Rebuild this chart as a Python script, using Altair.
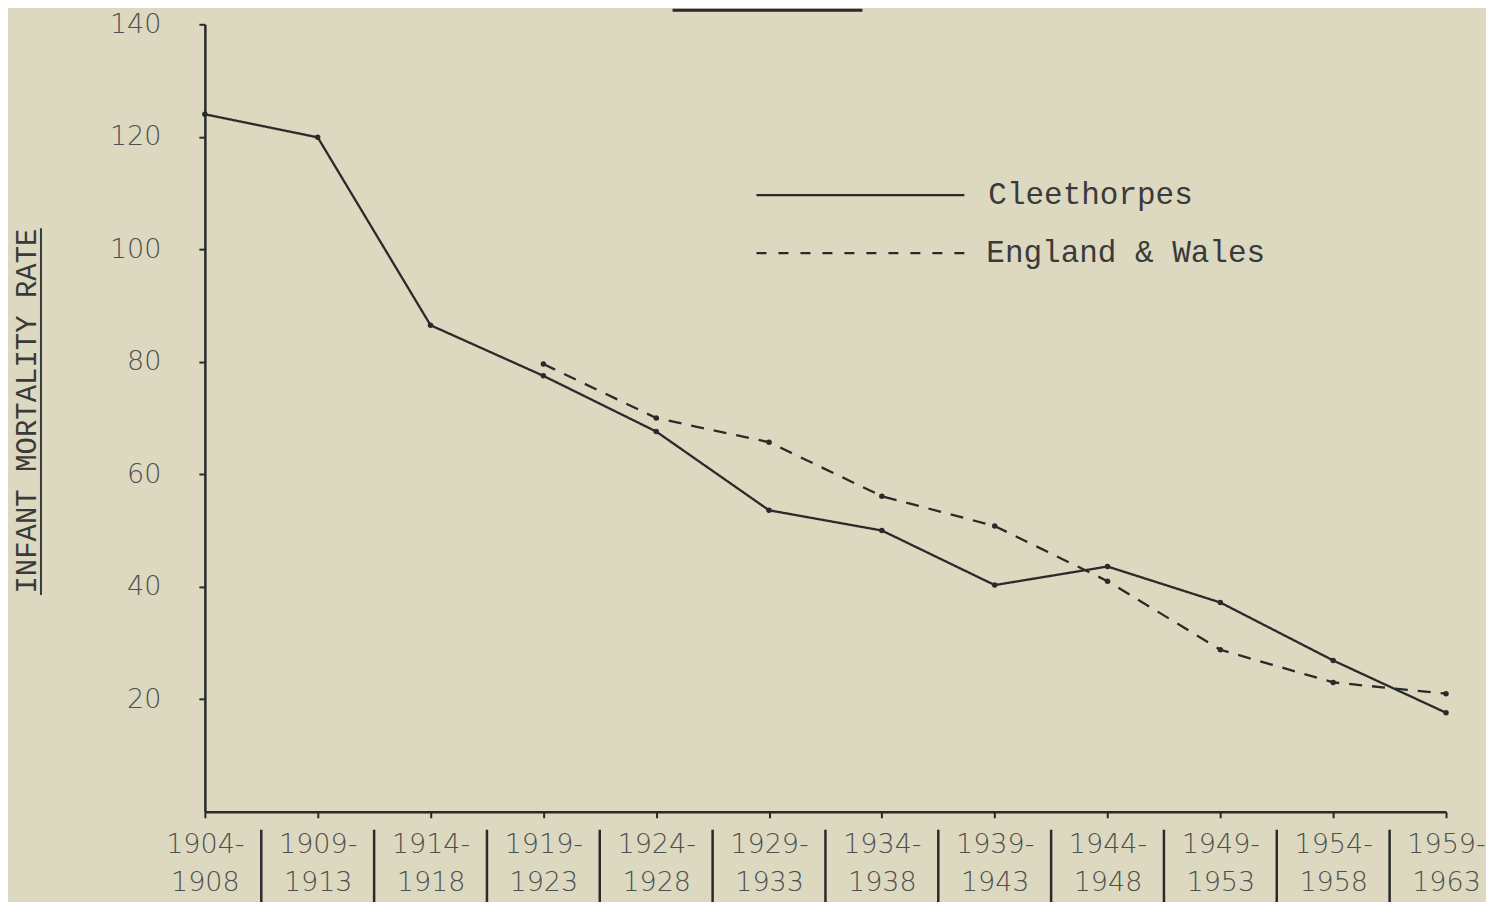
import altair as alt
import pandas as pd

periods = ["1904-|1908", "1909-|1913", "1914-|1918", "1919-|1923", "1924-|1928",
           "1929-|1933", "1934-|1938", "1939-|1943", "1944-|1948", "1949-|1953",
           "1954-|1958", "1959-|1963"]
cleethorpes = [124.0, 119.9, 86.5, 77.5, 67.6, 53.6, 50.0, 40.3, 43.6, 37.2, 26.9, 17.6]
england_wales = [None, None, None, 79.6, 70.0, 65.7, 56.1, 50.8, 41.0, 28.8, 23.0, 21.0]
series_names = ["Cleethorpes", "England & Wales"]
y_ticks = [20, 40, 60, 80, 100, 120, 140]
y_title = "INFANT MORTALITY RATE"

INK = "#2a2a2a"
LABEL = "#4f4f4f"
BG = "#dcd9c0"
NUM_FONT = "DejaVu Sans"
W, H = 1242, 788

rows = []
for i, (c, e) in enumerate(zip(cleethorpes, england_wales)):
    rows.append({"idx": i, "series": series_names[0], "rate": c})
    if e is not None:
        rows.append({"idx": i, "series": series_names[1], "rate": e})
df = pd.DataFrame(rows)
sep_df = pd.DataFrame({"pos": [i + 0.5 for i in range(len(periods) - 1)]})

labels_js = "[" + ",".join("'" + p + "'" for p in periods) + "]"

x_enc = alt.X(
    "idx:Q",
    scale=alt.Scale(domain=[0, len(periods) - 1], nice=False, zero=False),
    axis=alt.Axis(
        values=list(range(len(periods))),
        labelExpr=f"split({labels_js}[datum.value], '|')",
        title=None, grid=False, domainColor=INK, domainWidth=2.5,
        tickColor=INK, tickSize=6, tickWidth=2,
        labelFont=NUM_FONT, labelFontSize=27, labelFontWeight=200, labelColor=LABEL,
        labelPadding=14, labelLineHeight=38, labelFlush=False, labelOverlap=False,
    ),
)
y_enc = alt.Y(
    "rate:Q",
    scale=alt.Scale(domain=[0, 140], nice=False),
    axis=alt.Axis(
        values=y_ticks, title=None, grid=False, domainColor=INK, domainWidth=2.5,
        tickColor=INK, tickSize=6, tickWidth=2,
        labelFont=NUM_FONT, labelFontSize=27, labelFontWeight=200, labelColor=LABEL,
        labelPadding=38,
    ),
)

lines = alt.Chart(df).mark_line(color=INK, strokeWidth=2.3).encode(
    x=x_enc, y=y_enc,
    strokeDash=alt.StrokeDash(
        "series:N",
        scale=alt.Scale(domain=series_names, range=[[1, 0], [13, 10]]),
        legend=None,
    ),
    detail="series:N",
)
points = alt.Chart(df).mark_circle(color=INK, size=30, opacity=1).encode(
    x="idx:Q", y="rate:Q"
)
seps = alt.Chart(sep_df).mark_rule(color=INK, strokeWidth=2.5).encode(
    x="pos:Q", y=alt.value(806), y2=alt.value(881)
)

# Legend drawn by hand
leg_solid = alt.Chart(pd.DataFrame({"k": [0]})).mark_rule(color=INK, strokeWidth=2.3).encode(
    x=alt.value(552), x2=alt.value(760), y=alt.value(171)
)
leg_dash = alt.Chart(pd.DataFrame({"k": [0]})).mark_rule(
    color=INK, strokeWidth=2.3, strokeDash=[10, 12]
).encode(x=alt.value(552), x2=alt.value(760), y=alt.value(229))
leg_t1 = alt.Chart(pd.DataFrame({"name": [series_names[0]]})).mark_text(
    font="Liberation Mono", fontSize=31, color="#3a3a3a", align="left", baseline="middle"
).encode(text="name:N", x=alt.value(784), y=alt.value(171))
leg_t2 = alt.Chart(pd.DataFrame({"name": [series_names[1]]})).mark_text(
    font="Liberation Mono", fontSize=31, color="#3a3a3a", align="left", baseline="middle"
).encode(text="name:N", x=alt.value(782), y=alt.value(229))

# Y title with underline
ytitle = alt.Chart(pd.DataFrame({"t": [y_title]})).mark_text(
    font="Liberation Mono", fontSize=29, color="#3a3a3a", angle=270,
    align="center", baseline="middle",
).encode(text="t:N", x=alt.value(-178), y=alt.value(387))
yunder = alt.Chart(pd.DataFrame({"k": [0]})).mark_rule(color="#3a3a3a", strokeWidth=2).encode(
    x=alt.value(-164), y=alt.value(204), y2=alt.value(571)
)
# cut-off title underline at the top
top_under = alt.Chart(pd.DataFrame({"k": [0]})).mark_rule(color=INK, strokeWidth=3).encode(
    x=alt.value(468), x2=alt.value(658), y=alt.value(-14)
)

chart = alt.layer(
    lines, points, seps, leg_solid, leg_dash, leg_t1, leg_t2, ytitle, yunder, top_under
).properties(
    width=W, height=H,
    autosize=alt.AutoSizeParams(type="none"),
    padding={"left": 197, "top": 16, "right": 40, "bottom": 90},
).configure(background=BG).configure_view(stroke=None)

chart.save("out.html", embed_options={"renderer": "svg", "actions": False})
